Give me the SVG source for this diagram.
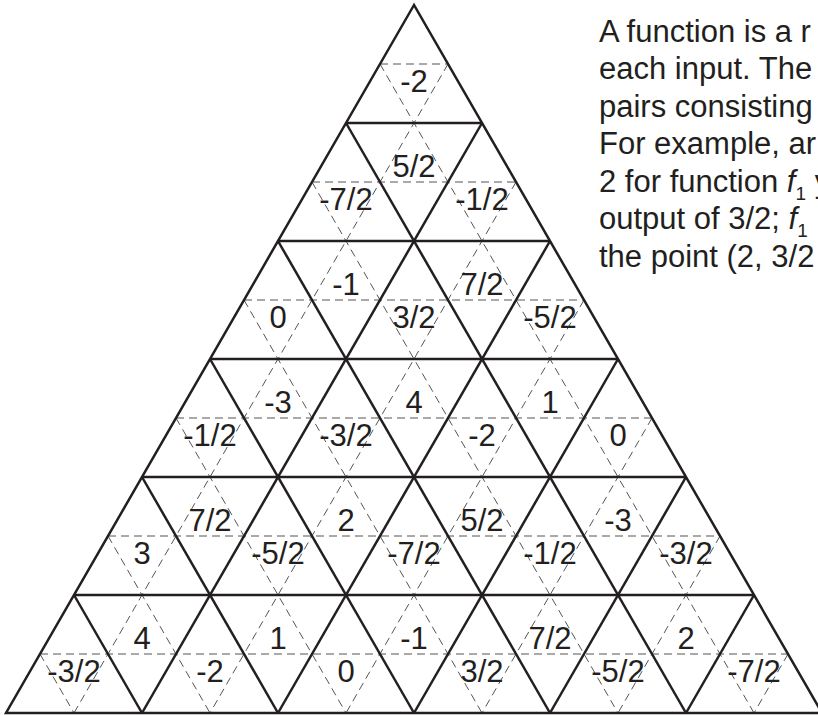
<svg xmlns="http://www.w3.org/2000/svg" width="818" height="715" viewBox="0 0 818 715">
<style>
.solid{stroke:#231f20;stroke-width:2.5;fill:none;stroke-linejoin:miter;stroke-linecap:butt}
.dash{stroke:#555;stroke-width:1;fill:none;stroke-dasharray:8 5}
.lbl{font-family:"Liberation Sans",Arial,sans-serif;font-size:31px;fill:#231f20;text-anchor:middle}
.para{font-family:"Liberation Sans",Arial,sans-serif;font-size:31px;fill:#231f20}
</style>
<rect width="818" height="715" fill="#fff"/>
<g id="dashed-lines" class="dash">
<line x1="380" y1="64" x2="448" y2="64"/>
<line x1="312" y1="182" x2="516" y2="182"/>
<line x1="244" y1="300" x2="584" y2="300"/>
<line x1="176" y1="418" x2="652" y2="418"/>
<line x1="108" y1="536" x2="720" y2="536"/>
<line x1="40" y1="654" x2="788" y2="654"/>
<line x1="448" y1="64" x2="74" y2="713"/>
<line x1="516" y1="182" x2="210" y2="713"/>
<line x1="584" y1="300" x2="346" y2="713"/>
<line x1="652" y1="418" x2="482" y2="713"/>
<line x1="720" y1="536" x2="618" y2="713"/>
<line x1="788" y1="654" x2="754" y2="713"/>
<line x1="380" y1="64" x2="754" y2="713"/>
<line x1="312" y1="182" x2="618" y2="713"/>
<line x1="244" y1="300" x2="482" y2="713"/>
<line x1="176" y1="418" x2="346" y2="713"/>
<line x1="108" y1="536" x2="210" y2="713"/>
<line x1="40" y1="654" x2="74" y2="713"/>
</g>
<g id="solid-lines" class="solid">
<polygon points="414,5 6,713 822,713"/>
<line x1="346" y1="123" x2="482" y2="123"/>
<line x1="278" y1="241" x2="550" y2="241"/>
<line x1="210" y1="359" x2="618" y2="359"/>
<line x1="142" y1="477" x2="686" y2="477"/>
<line x1="74" y1="595" x2="754" y2="595"/>
<line x1="482" y1="123" x2="142" y2="713"/>
<line x1="550" y1="241" x2="278" y2="713"/>
<line x1="618" y1="359" x2="414" y2="713"/>
<line x1="686" y1="477" x2="550" y2="713"/>
<line x1="754" y1="595" x2="686" y2="713"/>
<line x1="346" y1="123" x2="686" y2="713"/>
<line x1="278" y1="241" x2="550" y2="713"/>
<line x1="210" y1="359" x2="414" y2="713"/>
<line x1="142" y1="477" x2="278" y2="713"/>
<line x1="74" y1="595" x2="142" y2="713"/>
</g>
<g id="labels" class="lbl">
<text x="414" y="92">-2</text>
<text x="346" y="210">-7/2</text>
<text x="414" y="177">5/2</text>
<text x="482" y="210">-1/2</text>
<text x="278" y="328">0</text>
<text x="346" y="295">-1</text>
<text x="414" y="328">3/2</text>
<text x="482" y="295">7/2</text>
<text x="550" y="328">-5/2</text>
<text x="210" y="446">-1/2</text>
<text x="278" y="413">-3</text>
<text x="346" y="446">-3/2</text>
<text x="414" y="413">4</text>
<text x="482" y="446">-2</text>
<text x="550" y="413">1</text>
<text x="618" y="446">0</text>
<text x="142" y="564">3</text>
<text x="210" y="531">7/2</text>
<text x="278" y="564">-5/2</text>
<text x="346" y="531">2</text>
<text x="414" y="564">-7/2</text>
<text x="482" y="531">5/2</text>
<text x="550" y="564">-1/2</text>
<text x="618" y="531">-3</text>
<text x="686" y="564">-3/2</text>
<text x="74" y="682">-3/2</text>
<text x="142" y="649">4</text>
<text x="210" y="682">-2</text>
<text x="278" y="649">1</text>
<text x="346" y="682">0</text>
<text x="414" y="649">-1</text>
<text x="482" y="682">3/2</text>
<text x="550" y="649">7/2</text>
<text x="618" y="682">-5/2</text>
<text x="686" y="649">2</text>
<text x="754" y="682">-7/2</text>
</g>
<g id="paragraph" class="para">
<text x="599" y="41.7">A function is a r</text>
<text x="599" y="79.2">each input. The</text>
<text x="599" y="116.7">pairs consisting</text>
<text x="599" y="154.2">For example, ar</text>
<text x="599" y="191.7">2 for function <tspan font-style="italic">f</tspan><tspan font-size="19" dy="8">1</tspan><tspan dy="-8"> y</tspan></text>
<text x="599" y="229.2">output of 3/2; <tspan font-style="italic">f</tspan><tspan font-size="19" dy="8">1</tspan></text>
<text x="599" y="266.7">the point (2, 3/2</text>
</g>
</svg>
